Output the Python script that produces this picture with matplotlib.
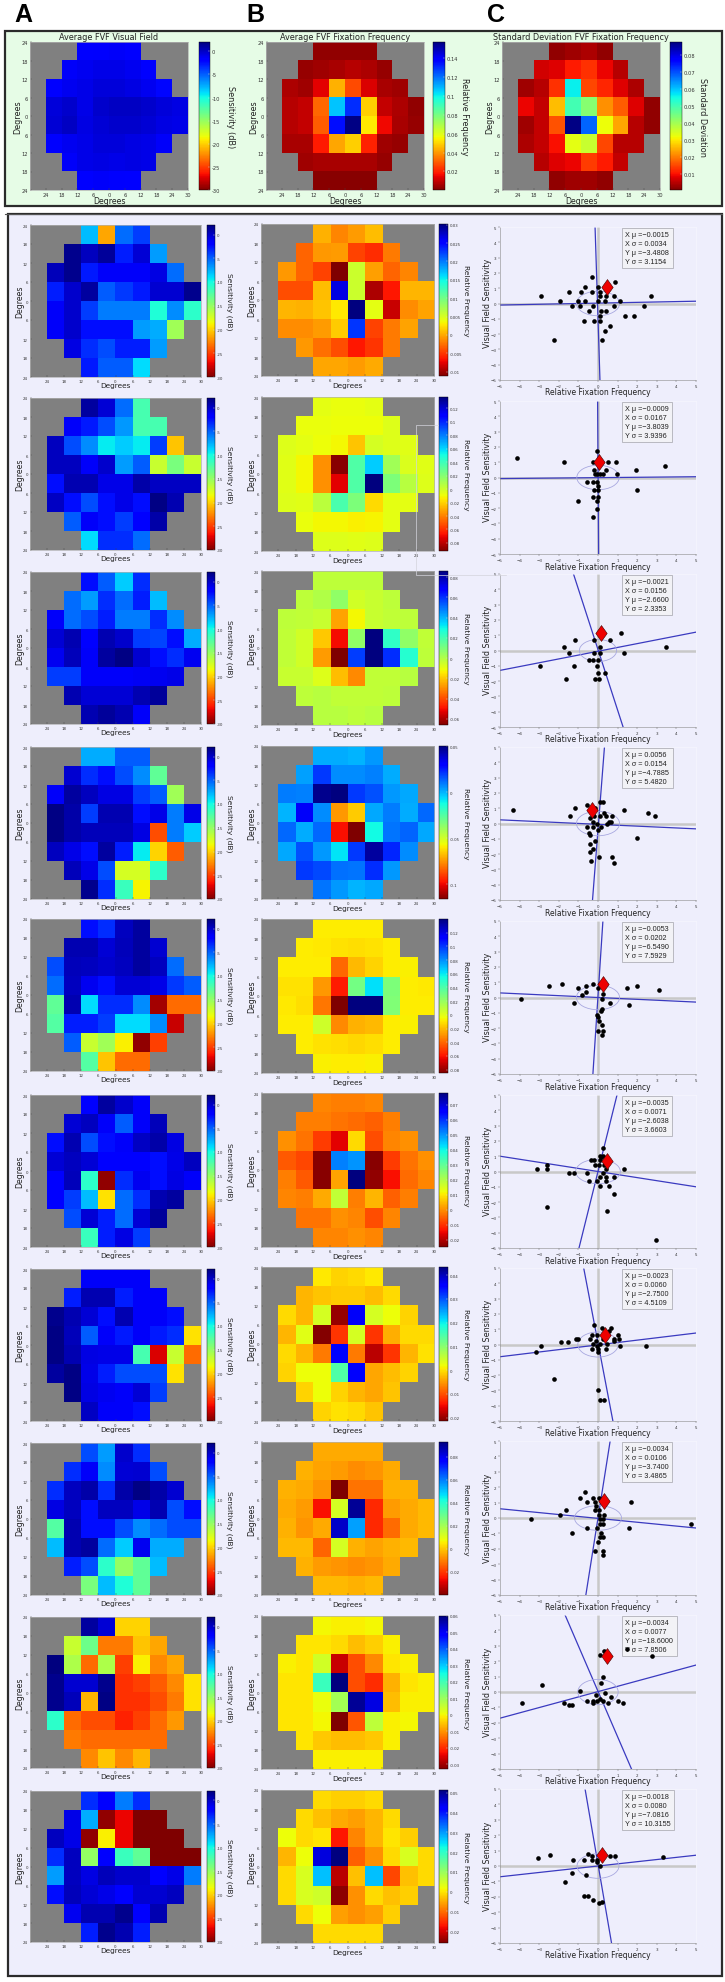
import numpy as np
import matplotlib
matplotlib.use("Agg")
import matplotlib.pyplot as plt
from matplotlib.patches import Ellipse, Rectangle

W, H = 725, 1983
ROW_LEN = [(3, 4), (2, 6), (1, 8), (1, 9), (1, 9), (1, 8), (2, 6), (3, 4)]
X_TICKS = ['24', '18', '12', '6', '0', '6', '12', '18', '24', '30']
Y_TICKS = ['24', '18', '12', '6', '0', '6', '12', '18', '24']

# ---------- summary panels ----------
top_field = [[-1.8,-1.6,-1.5,-1.8],[-1.5,-1.2,-1,-1,-1.2,-2],[-1.8,-1.2,-.9,-.6,-.6,-.8,-1.2,-2.2],
 [-.6,-.2,-1,-.2,0,0,-.2,-.6,-.8],[-.4,0,-.8,-.4,-.2,-.2,-.5,-.8,-1],[-1.8,-1.2,-.9,-.6,-.6,-.8,-1,-1.4],
 [-1.4,-1,-.8,-1,-.8,-1],[-1.8,-1.5,-1.6,-1.8]]
top_freq = [[.003,.003,.003,.003],[.004,.005,.006,.008,.007,.004],[.007,.005,.014,.044,.027,.013,.006,.005],
 [.008,.01,.032,.107,.13,.049,.01,.007,.003],[.008,.01,.03,.135,.156,.053,.016,.006,.004],
 [.006,.006,.019,.042,.049,.02,.005,.004],[.005,.006,.006,.006,.006,.004],[.002,.002,.002,.002]]
top_std = [[.002,.003,.004,.002],[.007,.008,.011,.013,.009,.005],[.003,.005,.013,.056,.015,.012,.008,.004],
 [.009,.006,.026,.05,.043,.022,.017,.008,.002],[.003,.006,.016,.087,.068,.032,.024,.005,.002],
 [.004,.006,.01,.033,.036,.015,.005,.005],[.005,.008,.009,.014,.011,.006],[.002,.003,.003,.002]]
top_freq_ticks = [.02,.04,.06,.08,.1,.12,.14]
top_std_ticks = [.01,.02,.03,.04,.05,.06,.07,.08]

# ---------- patient visual fields (dB) ----------
field_1 = [[-8,-21.5,-5.5,-4],[1.5,.2,1.2,-3,-.5,-7],[.3,1.5,-2.8,-1.5,-1.5,-1.5,-.8,-5.5],
 [-3,-.2,1,-5,-3.8,-2.8,-.3,-.3,1.5],[-1.5,-.2,-4,-6,-6,-6,-10.5,-6.5,-11],[-1.5,-.2,-2.5,-2.5,-2.5,-7,-7.5,-15.5],
 [-.8,-3.5,-4.5,-3,-3,-7],[-2.8,-5,-5,-9]]
field_2 = [[1,-.5,-5.5,-12],[-1.5,-2.8,-4.5,-6.8,-12,-12],[.2,-4.5,-6.5,-9.5,-8.5,-9.5,-4,-20.5],
 [.2,.2,-1.5,-.2,-7,-5,-17,-14,-17],[-2.5,.5,.5,-1,-1,.8,0,0,0],[0,-2.5,-4.5,-2.5,-1,-2.5,1.8,.5],
 [-5,-1.5,-2.5,-4,-2,.8],[-9,-3.5,-3.5,-5.5]]
field_3 = [[-2.5,-5,-8.5,-3.5],[-5.5,-7,-3.5,-5.5,-3,-8],[-1.5,-5.5,-4.5,-3,-6,-6,-3.5,-6.5],
 [-.5,.5,-2,.5,-.2,-4,-4.2,-2.5,-7.5],[-1.2,.3,-1.5,1,1.8,-.3,-2.5,-3.5,-1.2],[-4,-4,-1.5,-1.5,-1.5,-1.3,-1.2,-1],
 [.5,-.5,-.5,-.5,.5,1.2],[.5,1.2,.5,-1.5]]
field_4 = [[-7.5,-7.5,-5,-5],[-.3,-3.5,-2.5,-4.5,-6.5,-13],[-1.5,1,.2,-.8,-.8,-4,-5,-15.5],
 [1.8,.8,-4,.5,.5,-2.5,-1,-6,-1],[1.8,.8,.3,.3,.3,-.8,-24.5,-6,-8.5],[.2,-1,-2.5,1,-3,-9.5,-20,-24],
 [.3,-1,-4.5,-17.5,-17.5,-11],[1.5,-3.5,-11.5,-18.8]]
field_5 = [[-2.5,-3.5,.2,1],[.5,.5,-.5,.3,1,-.3],[-4.5,.3,.2,-.2,.2,1,.2,-5.5],
 [-5.5,.2,-1.2,-2.5,-.5,-.5,-1,-3.8,-5],[-13,.5,-9,-3.5,-3.5,-6.5,-29,-23.5,-23.5],[-12.5,-3,-3,-4,-9,-9,-6.5,-28],
 [-5,-17,-15.5,-19,-29.5,-25],[-12.5,-20.5,-23.5,-23.5]]
field_6 = [[-2,1,-.2,-1.5],[-.5,.2,-1.5,-5,-1.5,.3],[-2.5,.5,-4.5,-2.5,-1.5,0,.8,-.8],
 [-.5,.2,-.5,-2,-2,-2,-2.5,-1,.2],[-2,.3,-11,-29.5,-3.5,-1.2,-2.5,-.8,-1.5],[-2,-4,-8,-19.5,-5.5,-3.5,.5,1],
 [-4.5,-.5,-3,-5.5,-.5,1.2],[-11.5,-3,-.8,-4]]
field_7 = [[-1.5,-1.5,-1.5,-1.5],[-3,.5,.5,-3,-1.5,-1.5],[1.5,.5,-.5,-2.5,.5,-1.5,-1.5,-2.5],
 [1.8,.3,-5,-1.5,-2.8,-1.5,-2.8,-3.5,-19.5],[1.8,.5,-.8,-1,-1,-12,-27.5,-17,-23.5],[1,1.8,-1,-3,-4.5,-4.5,-4.5,-19.5],
 [1.8,-.8,-1.2,-1.5,-.5,-4],[0,-1.5,-1.5,-2.5]]
field_8 = [[-4.5,-7,-.2,-3.5],[-3.5,-1.5,-6.5,-.5,-.3,-4.5],[-3.5,.2,.8,-3.5,.8,1.8,.8,-.3],
 [-.8,.2,-2.5,.2,.2,-1,.5,-4.5,-2.5],[-12.5,.5,-2.5,-2.5,-4.5,-6.5,-5.5,-4.5,-4.5],[-8,.5,1,-5.5,-8.5,-1.2,-7.5,-7.5],
 [-3,-4.5,-11,-15,-13,-8],[-14,-8,-10.5,-13]]
field_9 = [[1,-.5,-20,-20],[-17,-13.5,-23,-23,-20.5,-21.5],[2,-16,-23.5,-16,-25,-19,-22.5,-21.5],
 [1.5,-.3,-.3,1.5,-25.5,-25,-24,-22.5,-19.5],[1.5,.3,-21,1.8,-25.5,-25.5,-24.5,-23,-19.5],[-11,-23.5,-24.5,-24.5,-26,-25,-23.5,-22],
 [-23,-23.5,-23.5,-23.5,-23.5,-23.5],[-22.5,-20.5,-22.5,-21]]
field_10 = [[-3.5,-2,-6,-3.5],[-1,-7.5,-29.5,-27,-30,-30],[.2,-1,-29.5,-19,-27,-30,-30,-30],
 [-3.5,.2,-15,-2,-11.5,-13,-30,-30,-30],[-7,.2,-.8,.3,-.2,-.2,-2,-1,-6],[-2.5,.3,-.5,-1,-2,-.3,-.3,.2],
 [-1.2,.5,.5,1.5,-1.8,.5],[-3,1.5,.5,-3]]
fields = [field_1, field_2, field_3, field_4, field_5, field_6, field_7, field_8, field_9, field_10]

# ---------- patient relative fixation frequency ----------
freq_1 = [[.0004,-.0016,-.0006,.0008],[-.003,-.0008,-.0006,-.0045,-.0055,-.002],[-.0008,-.003,-.0045,-.0112,.0055,-.0005,-.003,-.0015],
 [-.004,-.004,.0008,.0265,.0056,-.0095,-.0065,.0006,.0006],[.0006,.0003,.0012,.0028,.0302,.0042,-.0085,-.0012,-.0003],
 [-.0012,-.0012,-.0006,.0015,.0228,-.0045,-.002,-.0003],[-.0008,-.0025,-.004,-.0065,-.0052,-.002],[-.0002,-.0002,-.0006,0]]
freq_2 = [[-.007,-.008,-.008,-.007],[-.008,-.008,-.009,-.009,-.009,-.005],[-.005,-.007,-.009,-.011,-.024,-.002,-.005,-.006],
 [-.006,-.011,-.036,-.09,.035,.062,.012,-.004,-.006],[-.006,-.011,-.036,-.072,.035,.137,.022,.006,-.005],
 [-.005,-.006,.005,.036,.022,-.018,-.007,-.007],[-.008,-.011,-.011,-.013,-.012,-.007],[-.005,-.005,-.006,-.005]]
freq_3 = [[-.002,-.002,-.002,-.002],[-.002,0,.006,-.006,-.004,-.002],[-.002,-.003,-.004,-.026,-.012,-.004,-.003,-.002],
 [-.003,-.006,-.02,-.05,.006,.086,.024,.006,-.003],[-.003,-.006,-.027,-.066,.058,.086,.06,.026,-.002],
 [-.004,-.004,-.008,-.022,-.03,-.003,-.003,-.001],[-.002,-.001,-.003,-.003,-.003,-.002],[-.001,-.001,-.002,-.001]]
freq_4 = [[.001,.001,0,.004],[.003,.02,.006,.006,.008,.001],[.009,.008,.048,.05,.02,.016,.004,.002],
 [0,.032,.006,-.074,-.065,.002,.009,.001,.012],[.012,.001,.012,-.098,-.116,-.012,.01,.013,.002],
 [.002,.016,.004,-.008,.02,.045,.023,.006],[.02,.017,.011,.01,.022,.004],[.01,.004,0,.002]]
freq_5 = [[-.008,-.008,-.008,-.008],[-.008,-.009,-.011,-.012,-.011,-.008],[-.008,-.008,-.008,-.04,-.02,-.014,-.008,-.007],
 [-.011,-.011,-.028,-.058,.03,.062,.027,-.008,-.009],[-.009,-.012,-.036,-.085,.14,.14,.026,-.008,-.008],
 [-.008,-.008,.005,-.032,-.022,-.02,-.008,-.007],[-.008,-.011,-.012,-.013,-.012,-.008],[-.007,-.008,-.008,-.007]]
freq_6 = [[-.001,-.002,-.002,-.001],[-.002,-.002,-.003,-.004,-.005,-.002],[0,-.003,-.009,-.016,.008,-.007,-.001,0],
 [-.006,-.008,-.024,.052,.05,-.024,-.009,-.003,0],[-.002,-.006,-.024,.002,.078,-.023,-.014,-.004,-.001],
 [-.001,-.002,.003,.018,-.002,.004,-.005,-.002],[-.003,-.003,0,-.001,-.007,-.001],[-.001,-.001,0,-.001]]
freq_7 = [[.0005,-.001,-.0005,.0005],[-.003,-.002,-.0015,-.0015,-.0025,-.0005],[-.0005,-.003,.004,-.02,.0365,.004,.002,-.001],
 [-.003,.003,-.021,-.012,.004,-.012,-.0035,-.0005,-.0005],[-.0005,-.003,-.007,.0363,-.007,-.018,-.012,-.003,0],
 [-.001,.002,.002,.0145,.0363,-.004,-.0025,-.001],[-.001,.002,-.001,-.003,-.004,-.002],[-.001,0,-.0005,-.002]]
freq_8 = [[-.004,-.004,-.004,-.004],[-.003,-.005,-.006,-.008,-.007,-.004],[-.003,-.004,-.007,-.04,-.012,-.012,-.003,-.003],
 [-.004,-.006,-.026,.012,.09,-.022,-.006,-.004,-.002],[-.003,-.007,-.004,.084,.055,-.022,-.013,-.004,-.002],
 [-.002,-.002,-.014,.012,-.003,-.005,-.003,-.002],[-.003,-.006,-.007,-.008,-.007,-.004],[-.002,-.002,-.003,-.002]]
freq_9 = [[0,-.001,-.001,0],[-.002,-.002,-.003,-.006,-.004,-.001],[-.001,-.002,.004,-.027,-.017,-.011,-.002,-.001],
 [-.002,-.002,.021,.06,-.017,-.02,-.007,-.002,-.001],[-.002,-.002,.001,.009,.058,.052,-.006,-.001,-.001],
 [-.002,-.002,0,-.033,-.016,.006,-.001,0],[-.002,-.005,-.006,-.006,-.005,-.001],[-.001,-.001,-.001,-.001]]
freq_10 = [[-.001,-.002,-.002,-.001],[-.001,-.003,-.005,-.006,-.004,-.001],[.002,-.001,0,-.017,-.008,-.004,0,-.002],
 [-.004,.002,.045,.0515,-.011,-.007,-.001,.004,-.001],[-.001,.004,.027,-.022,-.003,.027,-.013,-.003,-.001],
 [-.001,.004,.005,-.025,-.007,-.001,-.003,-.002],[-.001,.002,-.006,-.007,-.006,-.002],[-.001,-.001,-.001,-.001]]
freqs = [freq_1, freq_2, freq_3, freq_4, freq_5, freq_6, freq_7, freq_8, freq_9, freq_10]
freq_limits = [(-.0112,.0302),(-.092,.137),(-.066,.086),(-.116,.05),(-.085,.14),(-.025,.078),(-.0214,.0434),(-.04,.0927),(-.033,.06),(-.026,.0515)]
freq_ticks = [
 ([-.01,-.005,0,.005,.01,.015,.02,.025,.03], ['-0.01','-0.005','0','0.005','0.01','0.015','0.02','0.025','0.03']),
 ([-.08,-.06,-.04,-.02,0,.02,.04,.06,.08,.1,.12], ['-0.08','-0.06','-0.04','-0.02','0','0.02','0.04','0.06','0.08','0.1','0.12']),
 ([-.06,-.04,-.02,0,.02,.04,.06,.08], ['-0.06','-0.04','-0.02','0','0.02','0.04','0.06','0.08']),
 ([-.1,-.05,0,.05], ['-0.1','-0.05','0','0.05']),
 ([-.08,-.06,-.04,-.02,0,.02,.04,.06,.08,.1,.12], ['-0.08','-0.06','-0.04','-0.02','0','0.02','0.04','0.06','0.08','0.1','0.12']),
 ([-.02,-.01,0,.01,.02,.03,.04,.05,.06,.07], ['-0.02','-0.01','0','0.01','0.02','0.03','0.04','0.05','0.06','0.07']),
 ([-.02,-.01,0,.01,.02,.03,.04], ['-0.02','-0.01','0','0.01','0.02','0.03','0.04']),
 ([-.02,0,.02,.04,.06,.08], ['-0.02','0','0.02','0.04','0.06','0.08']),
 ([-.03,-.02,-.01,0,.01,.02,.03,.04,.05,.06], ['-0.03','-0.02','-0.01','0','0.01','0.02','0.03','0.04','0.05','0.06']),
 ([-.02,-.01,0,.01,.02,.03,.04,.05], ['-0.02','-0.01','0','0.01','0.02','0.03','0.04','0.05']),
]

# ---------- scatter points: relative fixation frequency, visual field sensitivity ----------
pts_1_x = [-2.89,-1.93,-1.47,-1.34,-1.04,-.92,-.87,-.67,-.67,-.33,-.29,-.26,-.45,-.70,-.22,.02,.09,.09,0,.34,.41,.87,.80,.82,1.11,.15,.41,1.40,1.85,2.33,2.72,.12,.09,.6,.34,.22,-2.26]
pts_1_y = [.48,.15,.78,-.17,.15,-.17,.78,1.10,.15,1.75,.78,-.17,-.5,-1.13,-1.13,.15,.78,.48,1.10,.15,.48,1.43,.48,-.17,.15,-.5,-.5,-.8,-.8,-.17,.48,-.8,-1.13,-1.45,-1.77,-2.40,-2.40]
pts_2_x = [-4.12,-1.71,-.26,-.05,.5,.92,.97,1.92,3.44,1.99,-1,-.55,-.26,-.07,-.17,-.07,.1,.28,-.19,.4,-.02,-.19,.02,-.26,.02,-.07,-.07,-.24]
pts_2_y = [1.26,1,1,1.74,1,1,.22,.48,.74,-.8,-1.54,-.28,-.28,-.28,.22,.22,.22,.22,.48,.48,-.54,-.8,-.8,-1.3,-1.3,-1.54,-2.04,-2.57]
pts_3_x = [-.19,-1.18,-1.75,-1.49,.62,1.18,3.46,1.35,.09,-.19,.12,-.45,-.24,.02,-2.94,-1.23,-.05,-.02,.36,-1.64,-.17,.05]
pts_3_y = [.7,.7,.26,-.15,.7,1.13,.26,-.15,.26,-.15,-.15,-.59,-.59,-.59,-1,-1,-1,-1.46,-1.46,-1.87,-1.87,-1.87]
pts_4_x = [-4.36,-1.45,-1.18,-.57,.09,.26,1.33,2.56,2.89,2.01,-.43,-.19,.12,.4,.71,.31,.55,.66,.45,-.14,-.55,-.26,-.07,.14,-.26,.02,-.47,-.4,-.17,-.43,-.28,-.43,-.38,.07,.69,.83]
pts_4_y = [.87,.5,1.04,1.22,1.41,1.41,.87,.67,.5,-.96,.33,.5,.5,.5,.5,.67,.13,.13,-.04,1.04,-.22,-.22,-.04,-.22,.13,-.41,-.59,-.76,-1.15,-1.33,-1.67,-1.87,-2.43,-2.22,-2.22,-2.61]
pts_5_x = [-3.93,-2.51,-1.82,-1.02,-.83,-.62,-.59,-.26,0,-1.23,1.49,1.99,3.1,1.59,.59,.24,.19,.21,.17,-.05,.02,.05,.21,-.02,.26,.19]
pts_5_y = [-.07,.72,.85,.59,.17,.72,.33,.85,.59,-.33,.59,.72,.46,-.48,-.33,.2,-.11,-.72,-.9,-1.15,-1.28,-1.52,-1.8,-2.17,-2.17,-2.46]
pts_6_x = [-3.1,-2.58,-2.58,-1.47,-1.23,-.57,-.45,-.38,-.19,.24,.09,.26,-.17,.07,.33,.09,.14,1.33,.4,.28,.09,.43,.81,-.05,.4,.09,.55,.83,-2.61,.45,2.96]
pts_6_y = [.15,.43,.15,-.11,-.11,-.11,-.65,.72,.72,1.52,1.02,1.02,.43,.43,.43,.72,.98,.15,.15,-.11,-.39,-.39,-.39,-.65,-.65,-.93,-.93,-1.48,-2.3,-2.59,-4.48]
pts_7_x = [-3.18,-2.89,-1.87,-1.52,-1.14,-1,-.21,.19,.66,-2.27,0,.12,.33,2.44,-.31,-.4,-.07,-.26,-.09,.09,-.07,-.31,0,.02,.43,.45,.81,1,1.09,.81,1.11,.57,.26]
pts_7_y = [-.5,-.07,.15,.15,.37,.37,1.26,1.07,1.07,-2.28,-2.96,-3.61,-3.61,-.07,.59,.37,.59,.04,.2,.04,-.07,-.28,-.28,-.5,-.28,.04,.2,.59,.37,.37,-.07,.91,.37]
pts_8_x = [-3.41,-1.92,-1.64,-.9,-.66,-.57,-.26,-.14,.07,1.66,-.12,-.17,.07,.05,.31,.09,.28,.09,.28,-.55,-.05,-1.33,1.59,4.74,.17,.28,.09,0,-.17,.24,.24]
pts_8_y = [-.09,.2,.5,1.33,1.66,1.07,1.33,1.07,1.33,1.07,.78,.5,.5,.2,.2,-.09,-.09,-.37,-.37,-.65,-.65,-.96,-.65,-.37,-.96,-1.24,-1.24,-1.53,-2.12,-2.12,-2.4]
pts_9_x = [-3.89,-2.87,-1.75,-1.47,-1.33,-.92,-.55,-.26,-.12,.09,.36,.14,.28,.66,.52,1.04,1.26,.24,-.07,-.26,.1,.31,1.49,2.77]
pts_9_y = [-.7,.43,-.7,-.83,-.83,.07,-.57,-.7,-.2,-.46,-.07,.59,.96,-.33,-.7,-.57,-.7,-.57,-.57,-.57,2.41,2.63,2.76,2.37]
pts_10_x = [-3.06,-2.44,-1.3,-.69,-.52,-.33,-.33,-.07,-.05,.12,.62,.85,3.34,-1.33,-.59,-1.66,-.69,-.52,-.24,.21,.05]
pts_10_y = [.52,.72,.41,.41,.8,.67,.41,.41,.24,.02,.67,.67,.59,-.46,-.57,-1.05,-1.92,-1.92,-2.23,-2.31,-2.38]
pts_x = [pts_1_x, pts_2_x, pts_3_x, pts_4_x, pts_5_x, pts_6_x, pts_7_x, pts_8_x, pts_9_x, pts_10_x]
pts_y = [pts_1_y, pts_2_y, pts_3_y, pts_4_y, pts_5_y, pts_6_y, pts_7_y, pts_8_y, pts_9_y, pts_10_y]
diamond_x = [.45,.07,.14,-.33,.26,.47,.38,.33,.45,.21]
diamond_y = [1.10,1.0,1.13,.89,.87,.7,.63,1.11,2.37,.74]
axis_a = [((-5,-.1),(5,.15)),((-5,-.07),(5,.05)),((-5,-1.3),(5,1.2)),((-5,.24),(5,-.35)),((-5,.3),(5,-.3)),
          ((-5,1),(5,-1)),((-5,-.8),(5,.75)),((-5,.6),(5,-.65)),((-5,-1.7),(5,1.75)),((-5,-.7),(5,.7))]
axis_b = [((-.15,5),(.1,-5)),((-.02,5),(.03,-5)),((-1.25,5),(1.28,-5)),((.33,5),(-.28,-5)),((.25,5),(-.26,-5)),
          ((.97,5),(-.97,-5)),((-.73,5),(.76,-5)),((.62,5),(-.62,-5)),((-1.68,5),(1.71,-5)),((-.66,5),(.69,-5))]
ellipse_rx = [1.1,1.08,.95,1.1,1.1,1.14,1.03,1.2,1.03,1.07]
ellipse_ry = [.8,.8,.72,.8,.8,.8,.82,.8,.82,.8]
stats = [("-0.0015","0.0034","-3.4808","3.1154"),("-0.0009","0.0167","-3.8039","3.9396"),("-0.0021","0.0156","-2.6600","2.3353"),
         ("0.0056","0.0154","-4.7885","5.4820"),("-0.0053","0.0202","-6.5490","7.5929"),("-0.0035","0.0071","-2.6038","3.6603"),
         ("-0.0023","0.0060","-2.7500","4.5109"),("-0.0034","0.0106","-3.7400","3.4865"),("-0.0034","0.0077","-18.6000","7.8506"),
         ("-0.0018","0.0080","-7.0816","10.3155")]
field_ticks = [-30,-25,-20,-15,-10,-5,0]

# ---------- layout (pixels) ----------
row_a = [(226,378),(399,551),(573,725),(748,900),(920,1072),(1096,1248),(1270,1422),(1444,1596),(1618,1769),(1792,1943)]
row_b = [(225,377),(398,552),(572,726),(747,900),(920,1074),(1094,1248),(1268,1422),(1443,1596),(1617,1770),(1791,1944)]
row_c = [(228,381),(402,555),(575,728),(748,901),(922,1075),(1096,1249),(1269,1422),(1442,1596),(1616,1770),(1790,1944)]
GREY = '#808080'
cmap = plt.get_cmap('jet_r').copy()
cmap.set_bad(GREY)
TALL_DIAMOND = [(0, 1), (.72, 0), (0, -1), (-.72, 0), (0, 1)]

fig = plt.figure(figsize=(W/100, H/100), dpi=100, facecolor='white')

def px_ax(x0, y0, x1, y1, **kw):
    return fig.add_axes([x0/W, 1-y1/H, (x1-x0)/W, (y1-y0)/H], **kw)

def put(x, y, s, **kw):
    fig.text(x/W, 1-y/H, s, ha=kw.pop('ha', 'center'), va=kw.pop('va', 'center'), **kw)

fig.add_artist(Rectangle((5/W, 1-207/H), 717/W, 175/H, transform=fig.transFigure, fc='#E6FCE6', ec='#2b2b2b', lw=1.6, zorder=-5))
fig.add_artist(Rectangle((8/W, 1-1977/H), 714/W, 1762/H, transform=fig.transFigure, fc='#EEEEFC', ec='#2b2b2b', lw=1.6, zorder=-5))
fig.add_artist(plt.Line2D([5/W, 722/W], [1-214.5/H, 1-214.5/H], transform=fig.transFigure, color='#555555', lw=.8, zorder=-4))
fig.add_artist(plt.Line2D([438/W, 416/W, 416/W, 506/W], [1-426/H, 1-426/H, 1-576/H, 1-576/H], transform=fig.transFigure,
                          color='#d4d4dc', lw=.5, zorder=10))

for s, x in zip('ABC', (23, 255, 496)):
    put(x, 15, s, fontsize=18, fontweight='bold', family='Liberation Sans')

def heat(box, cbox, vals, lims, ticks, labels, size):
    grid = np.full((8, 10), np.nan)
    for r, (start, n) in enumerate(ROW_LEN):
        grid[r, start:start+n] = vals[r]
    ax = px_ax(*box)
    im = ax.imshow(np.ma.masked_invalid(grid), cmap=cmap, vmin=lims[0], vmax=lims[1], aspect='auto',
                   extent=(0, 10, 8, 0), interpolation='nearest')
    ax.set_xticks(range(1, 11), X_TICKS)
    ax.set_yticks(range(0, 9), Y_TICKS)
    ax.tick_params(labelsize=size, length=1.5, width=.3, pad=1.5, direction='in', color='#444444', labelcolor='#333333')
    for sp in ax.spines.values():
        sp.set_linewidth(.5)
        sp.set_color('#b0b0b0')
    cax = px_ax(*cbox)
    cb = fig.colorbar(im, cax=cax)
    cb.set_ticks(ticks, labels=labels)
    cb.ax.tick_params(labelsize=size, length=1.5, width=.3, pad=1.5, direction='in', color='#dddddd', labelcolor='#333333')
    cb.outline.set_linewidth(.3)
    return ax

# summary row
top_titles = ['Average FVF Visual Field', 'Average FVF Fixation Frequency', 'Standard Deviation FVF Fixation Frequency']
top_x = [(30, 188, 199, 210), (266, 424, 433, 445), (502, 660, 670, 682)]
top_data = [top_field, top_freq, top_std]
top_lims = [(-30, 2), (.0004, .1568), (.0006, .0876)]
top_tk = [field_ticks, top_freq_ticks, top_std_ticks]
top_lb = [['-30','-25','-20','-15','-10','-5','0'], ['0.02','0.04','0.06','0.08','0.1','0.12','0.14'],
          ['0.01','0.02','0.03','0.04','0.05','0.06','0.07','0.08']]
top_cb = ['Sensitivity (dB)', 'Relative Frequency', 'Standard Deviation']
for i in range(3):
    x0, x1, c0, c1 = top_x[i]
    heat((x0, 43, x1, 191), (c0, 43, c1, 191), top_data[i], top_lims[i], top_tk[i], top_lb[i], 3.7)
    put((x0+x1)/2, 38, top_titles[i], fontsize=5.9, color='#222222')
    put((x0+x1)/2, 202, 'Degrees', fontsize=5.6, color='#222222')
    put(x0-12.5, 117, 'Degrees', fontsize=5.8, rotation=90, color='#222222')
    put(c1+20, 117, top_cb[i], fontsize=5.9, rotation=270, color='#222222')

# patient rows
for i in range(10):
    y0, y1 = row_a[i]
    heat((30, y0, 201, y1), (207, y0, 215, y1), fields[i], (-30, 2), field_ticks,
         ['-30','-25','-20','-15','-10','-5','0'], 2.8)
    put(115, y1+8, 'Degrees', fontsize=5.3, color='#222222')
    put(19.5, (y0+y1)/2, 'Degrees', fontsize=5.6, rotation=90, color='#222222')
    put(229, (y0+y1)/2, 'Sensitivity (dB)', fontsize=5.4, rotation=270, color='#222222')

    y0, y1 = row_b[i]
    heat((261, y0, 434, y1), (439, y0, 448, y1), freqs[i], freq_limits[i], freq_ticks[i][0], freq_ticks[i][1], 2.8)
    put(347, y1+9, 'Degrees', fontsize=5.3, color='#222222')
    put(252, (y0+y1)/2, 'Degrees', fontsize=5.6, rotation=90, color='#222222')
    put(466, (y0+y1)/2, 'Relative Frequency', fontsize=5.4, rotation=270, color='#222222')

    y0, y1 = row_c[i]
    ax = px_ax(500, y0, 696, y1, facecolor='#EEEEFC')
    ax.set_xlim(-5, 5)
    ax.set_ylim(-5, 5)
    ax.axhline(0, color='#c8c8c8', lw=1.8, zorder=1)
    ax.axvline(0, color='#c8c8c8', lw=1.8, zorder=1)
    for seg in (axis_a[i], axis_b[i]):
        ax.plot([seg[0][0], seg[1][0]], [seg[0][1], seg[1][1]], color='#3a3ac0', lw=.9, zorder=2)
    ax.add_patch(Ellipse((0, 0), 2*ellipse_rx[i], 2*ellipse_ry[i], fc='none', ec='#a8a8e0', lw=.6, zorder=2))
    ax.scatter(pts_x[i], pts_y[i], s=11, c='black', zorder=5, linewidths=0)
    ax.scatter([diamond_x[i]], [diamond_y[i]], s=130, marker=TALL_DIAMOND, c='#ee0000', edgecolors='#400000',
               linewidths=.4, zorder=6)
    ax.set_xticks(range(-5, 6))
    ax.set_yticks(range(-5, 6))
    ax.tick_params(labelsize=2.9, length=1.5, width=.3, pad=1.2, color='#555555', labelcolor='#333333')
    for side, sp in ax.spines.items():
        sp.set_linewidth(.4)
        sp.set_color('#8a8a8a' if side in ('left', 'bottom') else '#f8f8ff')
    xm, xs, ym, ys = stats[i]
    txt = f"X \u03bc =\u2212{xm.lstrip('-')}" if xm.startswith('-') else f"X \u03bc = {xm}"
    body = "\n".join([txt, f"X \u03c3 = {xs}", f"Y \u03bc =\u2212{ym.lstrip('-')}", f"Y \u03c3 = {ys}"])
    ax.text(.640, .972, body, transform=ax.transAxes, fontsize=5.2, family='Liberation Sans', va='top', ha='left',
            color='#222222', linespacing=1.35, zorder=3,
            bbox=dict(boxstyle='square,pad=0.45', fc='#F2F2F6', ec='#b0b0b8', lw=.6))
    put(598, y1+12, 'Relative Fixation Frequency', fontsize=5.5, color='#222222')
    put(487, (y0+y1)/2-1, 'Visual Field Sensitivity', fontsize=5.8, rotation=90, color='#222222')

fig.savefig('out.png', dpi=100, facecolor='white')
